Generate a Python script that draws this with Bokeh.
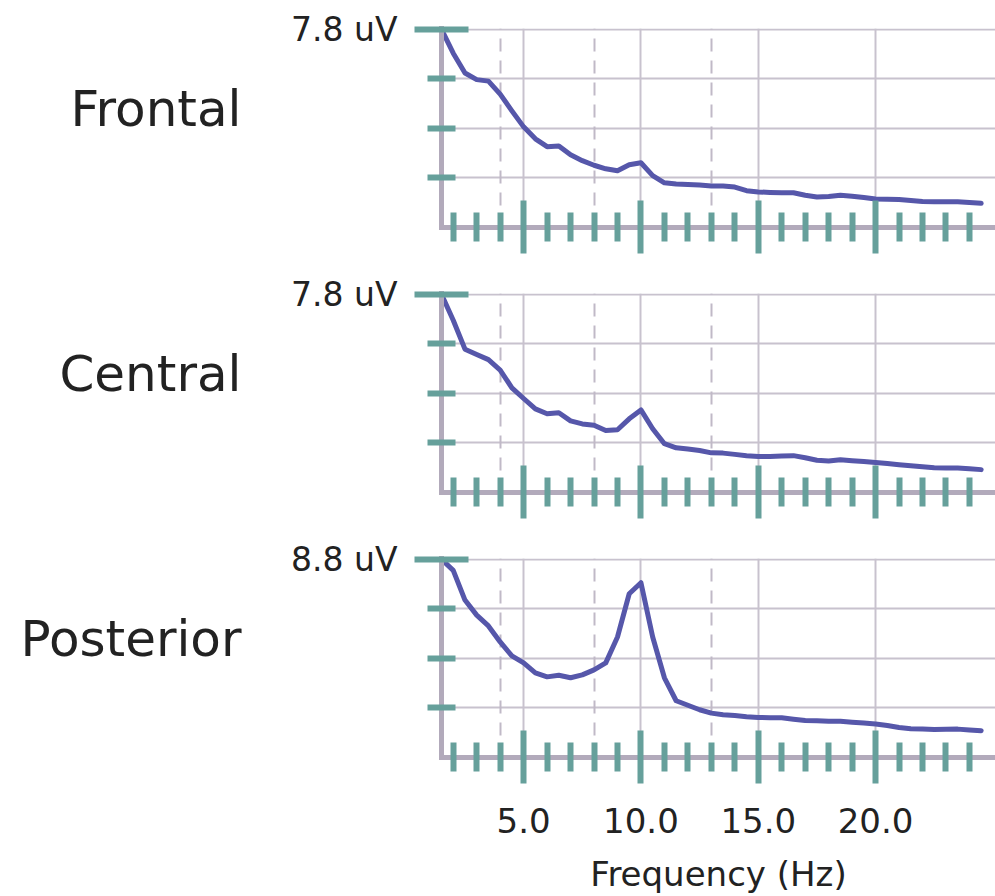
import json
from bokeh.plotting import figure
from bokeh.layouts import column
from bokeh.models import (FixedTicker, PrintfTickFormatter, Grid, Range1d,
                          LinearAxis, CustomJSTickFormatter)
from bokeh.embed import file_html
from bokeh.resources import INLINE

# ---------------- data ----------------
freq = [1.5, 2.0, 2.5, 3.0, 3.5, 4.0, 4.5, 5.0, 5.5, 6.0, 6.5, 7.0, 7.5, 8.0,
        8.5, 9.0, 9.5, 10.0, 10.5, 11.0, 11.5, 12.0, 12.5, 13.0, 13.5, 14.0,
        14.5, 15.0, 15.5, 16.0, 16.5, 17.0, 17.5, 18.0, 18.5, 19.0, 19.5, 20.0,
        20.5, 21.0, 21.5, 22.0, 22.5, 23.0, 23.5, 24.0, 24.5]

frontal = [7.80, 6.86, 6.08, 5.82, 5.76, 5.25, 4.59, 3.96, 3.49, 3.18, 3.21,
           2.86, 2.63, 2.45, 2.31, 2.23, 2.47, 2.55, 2.04, 1.76, 1.71, 1.69,
           1.67, 1.63, 1.63, 1.59, 1.45, 1.40, 1.38, 1.37, 1.37, 1.27, 1.20,
           1.22, 1.27, 1.23, 1.18, 1.12, 1.11, 1.10, 1.06, 1.02, 1.01, 1.01,
           1.01, 0.98, 0.95]

central = [7.80, 6.78, 5.64, 5.43, 5.23, 4.82, 4.12, 3.70, 3.29, 3.10, 3.14,
           2.82, 2.70, 2.65, 2.44, 2.47, 2.90, 3.25, 2.51, 1.92, 1.76, 1.71,
           1.65, 1.56, 1.55, 1.50, 1.45, 1.42, 1.42, 1.44, 1.45, 1.37, 1.27,
           1.24, 1.29, 1.25, 1.22, 1.18, 1.14, 1.09, 1.05, 1.01, 0.97, 0.96,
           0.96, 0.93, 0.90]

posterior = [8.80, 8.31, 6.99, 6.32, 5.84, 5.13, 4.51, 4.20, 3.76, 3.58, 3.65,
             3.54, 3.67, 3.89, 4.20, 5.35, 7.27, 7.76, 5.35, 3.54, 2.52, 2.32,
             2.12, 1.97, 1.90, 1.86, 1.81, 1.78, 1.77, 1.76, 1.70, 1.64, 1.63,
             1.61, 1.61, 1.57, 1.53, 1.49, 1.42, 1.33, 1.28, 1.26, 1.24, 1.25,
             1.26, 1.22, 1.19]

regions = ["Frontal", "Central", "Posterior"]
series = [frontal, central, posterior]
y_max = [7.8, 7.8, 8.8]
major_freqs = [5, 10, 15, 20]
minor_freqs = [f for f in range(2, 25) if f % 5 != 0]
band_edges = [4, 8, 13]
x_label = "Frequency (Hz)"

# ---------------- style ----------------
LINE = "#5657aa"
TEAL = "#66a09b"
AXIS = "#b2aabb"
GRID = "#c8c2ce"
DASH = "#c0b9c7"
TEXT = "#222222"
FONT = "DejaVu Sans"

FRAME_H = 199
tops = [28, 25, 25]
bottoms = [41, 41, 139]


def make_panel(i):
    name, vals, ymax = regions[i], series[i], y_max[i]
    last = i == len(regions) - 1
    h = tops[i] + FRAME_H + bottoms[i]
    p = figure(width=995, height=h,
               x_range=Range1d(1.5, 25.11), y_range=Range1d(0, ymax * 1.004),
               output_backend="svg", toolbar_location=None,
               min_border_left=441, min_border_right=0,
               min_border_top=tops[i], min_border_bottom=bottoms[i])
    p.outline_line_color = None
    p.background_fill_color = "white"
    p.border_fill_color = "white"

    # grids
    p.xgrid.grid_line_color = GRID
    p.xgrid.grid_line_width = 2
    p.ygrid.grid_line_color = GRID
    p.ygrid.grid_line_width = 2
    p.ygrid.minor_grid_line_color = GRID
    p.ygrid.minor_grid_line_width = 2
    band = Grid(dimension=0, ticker=FixedTicker(ticks=band_edges),
                grid_line_color=DASH, grid_line_width=2, grid_line_dash="13 9")
    p.add_layout(band)

    p.line(freq, vals, line_width=5, line_color=LINE, line_join="round",
           line_cap="round")

    # x axis
    xa = p.xaxis[0]
    xa.ticker = FixedTicker(ticks=major_freqs, minor_ticks=minor_freqs)
    xa.axis_line_color = AXIS
    xa.axis_line_width = 5
    xa.axis_line_cap = "square"
    xa.major_tick_line_color = TEAL
    xa.major_tick_line_width = 6
    xa.major_tick_in = 27
    xa.major_tick_out = 26
    xa.minor_tick_line_color = TEAL
    xa.minor_tick_line_width = 6
    xa.minor_tick_in = 15
    xa.minor_tick_out = 14
    xa.major_label_text_font = FONT
    xa.major_label_text_font_size = "34px"
    xa.major_label_text_color = TEXT
    xa.major_label_standoff = 24
    if last:
        xa.formatter = PrintfTickFormatter(format="%.1f")
        xa.axis_label = x_label
        xa.axis_label_text_font = FONT
        xa.axis_label_text_font_size = "34px"
        xa.axis_label_text_font_style = "normal"
        xa.axis_label_text_color = TEXT
        xa.axis_label_standoff = 18
    else:
        xa.formatter = PrintfTickFormatter(format="")

    # y axis
    ya = p.yaxis[0]
    ya.ticker = FixedTicker(ticks=[ymax],
                            minor_ticks=[ymax * 0.25, ymax * 0.5, ymax * 0.75])
    ya.formatter = PrintfTickFormatter(format="%.1f uV")
    ya.axis_line_color = AXIS
    ya.axis_line_width = 5
    ya.axis_line_cap = "square"
    ya.major_tick_line_color = TEAL
    ya.major_tick_line_width = 6
    ya.major_tick_in = 27
    ya.major_tick_out = 27
    ya.minor_tick_line_color = TEAL
    ya.minor_tick_line_width = 6
    ya.minor_tick_in = 14
    ya.minor_tick_out = 14
    ya.major_label_text_font = FONT
    ya.major_label_text_font_size = "33px"
    ya.major_label_text_color = TEXT
    ya.major_label_standoff = 17

    # region name: an outer left axis carrying a single labelled tick
    name_axis = LinearAxis(
        ticker=FixedTicker(ticks=[ymax * 0.6]),
        formatter=CustomJSTickFormatter(code="return %s;" % json.dumps(name)),
        axis_line_color=None, major_tick_line_color=None,
        minor_tick_line_color=None, major_tick_in=0, major_tick_out=0,
        major_label_standoff=47, major_label_text_font=FONT,
        major_label_text_font_size="50px", major_label_text_color=TEXT)
    p.add_layout(name_axis, "left")
    return p


layout = column(*[make_panel(i) for i in range(len(regions))])
open("out.html", "w").write(file_html(layout, INLINE))
